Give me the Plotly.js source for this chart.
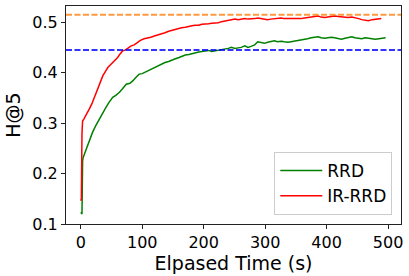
<!DOCTYPE html>
<html>
<head>
<meta charset="utf-8">
<script src="https://cdn.plot.ly/plotly-3.0.1.min.js"></script>
<style>html,body{margin:0;padding:0;background:#fff;}#chart{width:409px;height:276px;}</style>
</head>
<body>
<div id="chart"></div>
<script>
// RRD (green)
const rrdTime = [0, 1, 2, 3, 4, 8, 11, 15, 19, 24, 30, 35, 41, 46, 52, 57, 63, 68, 74, 80, 85, 90, 95, 100, 105, 110, 115, 121, 127, 132, 137, 143, 148, 153, 160, 165, 170, 176, 181, 186, 192, 197, 202, 208, 213, 218, 224, 229, 235, 240, 245, 251, 256, 261, 267, 272, 277, 283, 288, 293, 299, 304, 309, 315, 320, 326, 331, 337, 342, 347, 353, 358, 364, 369, 375, 380, 386, 391, 397, 402, 408, 413, 419, 424, 430, 435, 441, 446, 452, 457, 463, 468, 474, 479, 485, 490, 496];
const rrdH5 = [0.123, 0.121, 0.120, 0.225, 0.232, 0.245, 0.255, 0.268, 0.281, 0.294, 0.308, 0.319, 0.331, 0.341, 0.351, 0.355, 0.361, 0.368, 0.377, 0.379, 0.384, 0.391, 0.397, 0.398, 0.401, 0.404, 0.408, 0.410, 0.414, 0.417, 0.420, 0.422, 0.425, 0.427, 0.430, 0.433, 0.435, 0.436, 0.438, 0.439, 0.441, 0.442, 0.443, 0.444, 0.442, 0.443, 0.445, 0.446, 0.446, 0.448, 0.450, 0.448, 0.449, 0.450, 0.453, 0.450, 0.452, 0.455, 0.461, 0.459, 0.458, 0.460, 0.462, 0.463, 0.461, 0.462, 0.461, 0.460, 0.461, 0.462, 0.463, 0.465, 0.466, 0.467, 0.469, 0.470, 0.471, 0.469, 0.468, 0.469, 0.470, 0.469, 0.468, 0.466, 0.468, 0.470, 0.471, 0.469, 0.468, 0.467, 0.469, 0.468, 0.467, 0.466, 0.467, 0.468, 0.469];

// IR-RRD (red)
const irTime = [0, 1, 2, 3, 5, 8, 11, 14, 18, 22, 25, 29, 33, 36, 40, 44, 48, 52, 55, 60, 64, 68, 73, 78, 82, 87, 92, 97, 103, 108, 114, 121, 127, 132, 137, 143, 148, 153, 159, 164, 170, 175, 181, 186, 192, 197, 202, 208, 213, 218, 224, 229, 235, 240, 245, 251, 256, 261, 267, 272, 277, 283, 288, 293, 299, 304, 309, 315, 320, 326, 331, 337, 342, 347, 353, 358, 364, 369, 375, 380, 386, 391, 397, 402, 408, 413, 419, 424, 430, 435, 441, 446, 452, 457, 463, 468, 474, 479, 485, 489];
const irH5 = [0.146, 0.150, 0.280, 0.304, 0.308, 0.314, 0.321, 0.328, 0.338, 0.350, 0.361, 0.372, 0.385, 0.394, 0.402, 0.410, 0.415, 0.420, 0.423, 0.430, 0.437, 0.443, 0.445, 0.449, 0.453, 0.455, 0.459, 0.464, 0.467, 0.468, 0.470, 0.473, 0.475, 0.477, 0.479, 0.482, 0.484, 0.486, 0.487, 0.489, 0.490, 0.492, 0.493, 0.494, 0.494, 0.496, 0.496, 0.497, 0.498, 0.498, 0.499, 0.501, 0.502, 0.503, 0.504, 0.506, 0.505, 0.506, 0.507, 0.506, 0.506, 0.507, 0.508, 0.507, 0.506, 0.505, 0.506, 0.507, 0.508, 0.508, 0.507, 0.507, 0.506, 0.507, 0.506, 0.507, 0.508, 0.509, 0.509, 0.510, 0.512, 0.510, 0.509, 0.510, 0.511, 0.512, 0.511, 0.510, 0.509, 0.509, 0.510, 0.509, 0.507, 0.505, 0.504, 0.503, 0.505, 0.506, 0.506, 0.507];

// reference horizontal lines
const orangeRef = 0.5145;
const blueRef = 0.445;

const seriesNames = ['RRD', 'IR-RRD'];
const xTicks = [0, 100, 200, 300, 400, 500];
const yTicks = [0.1, 0.2, 0.3, 0.4, 0.5];

const traces = [
  {x: rrdTime, y: rrdH5, name: seriesNames[0], mode: 'lines', line: {color: '#008000', width: 1.5}},
  {x: irTime, y: irH5, name: seriesNames[1], mode: 'lines', line: {color: '#ff0000', width: 1.5}}
];

const axisCommon = {
  showline: true, mirror: true, linecolor: '#222', linewidth: 1,
  ticks: 'outside', ticklen: 4, tickwidth: 1, tickcolor: '#222',
  showgrid: false, zeroline: false,
  tickfont: {family: 'DejaVu Sans', size: 16, color: '#000'}
};

const layout = {
  width: 409, height: 276,
  margin: {l: 66, r: 8, t: 6, b: 52},
  paper_bgcolor: '#fff', plot_bgcolor: '#fff',
  font: {family: 'DejaVu Sans', color: '#000'},
  xaxis: Object.assign({}, axisCommon, {
    range: [-24, 521], tickvals: xTicks,
    title: {text: 'Elpased Time (s)', font: {size: 19, family: 'DejaVu Sans'}, standoff: 4}
  }),
  yaxis: Object.assign({}, axisCommon, {
    range: [0.1, 0.532], tickvals: yTicks, ticktext: yTicks.map(v => v.toFixed(1)),
    title: {text: 'H@5', font: {size: 19, family: 'DejaVu Sans'}, standoff: 6}
  }),
  shapes: [
    {type: 'line', xref: 'paper', x0: 0, x1: 1, yref: 'y', y0: orangeRef, y1: orangeRef,
     line: {color: 'rgba(255,127,14,0.8)', width: 2, dash: '6px,2.5px'}},
    {type: 'line', xref: 'paper', x0: 0, x1: 1, yref: 'y', y0: blueRef, y1: blueRef,
     line: {color: 'rgba(0,0,255,0.8)', width: 2, dash: '6px,2.5px'}}
  ],
  legend: {
    x: 0.974, y: 0.041, xanchor: 'right', yanchor: 'bottom',
    bgcolor: 'rgba(255,255,255,0.8)', bordercolor: '#cccccc', borderwidth: 1,
    font: {family: 'DejaVu Sans', size: 17, color: '#000'},
    itemwidth: 42, tracegroupgap: 0
  },
  showlegend: true
};

Plotly.newPlot('chart', traces, layout, {displayModeBar: false, staticPlot: true});
</script>
</body>
</html>
